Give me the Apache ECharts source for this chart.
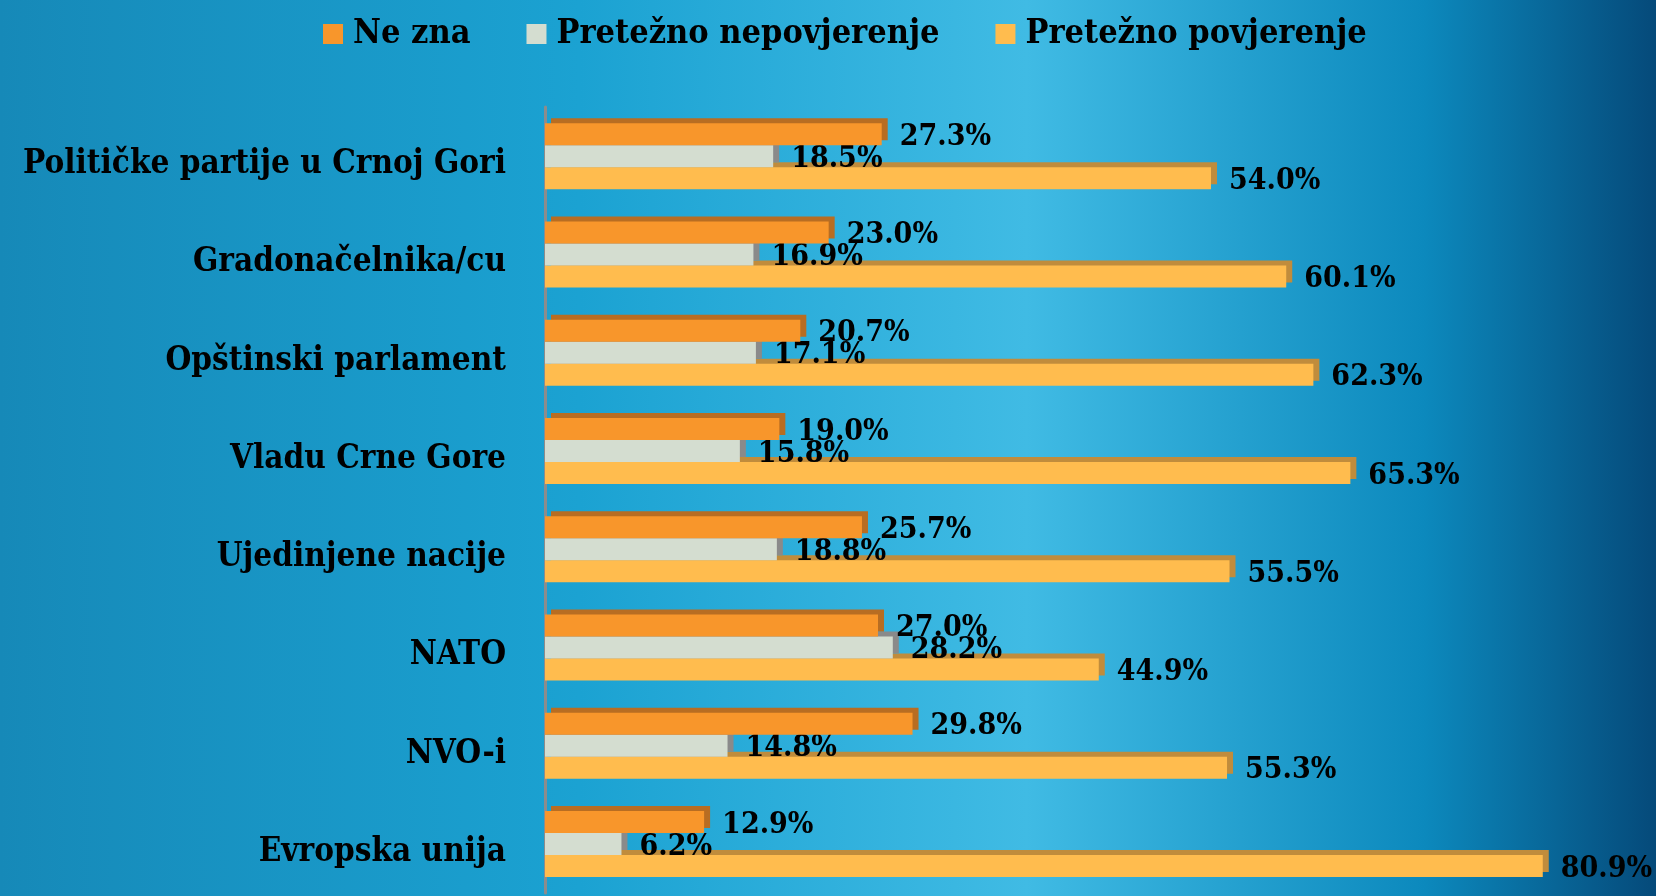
<!DOCTYPE html>
<html>
<head>
<meta charset="utf-8">
<script src="https://cdn.jsdelivr.net/npm/echarts@6/dist/echarts.min.js"></script>
<style>
  html, body { margin: 0; padding: 0; }
  #chart { width: 1656px; height: 896px; }
</style>
</head>
<body>
<div id="chart"></div>
<script>
// kategorije (odozgo prema dolje)
const categories = [
  "Političke partije u Crnoj Gori",
  "Gradonačelnika/cu",
  "Opštinski parlament",
  "Vladu Crne Gore",
  "Ujedinjene nacije",
  "NATO",
  "NVO-i",
  "Evropska unija"
];
const neZna = [27.3, 23.0, 20.7, 19.0, 25.7, 27.0, 29.8, 12.9];
const nepovjerenje = [18.5, 16.9, 17.1, 15.8, 18.8, 28.2, 14.8, 6.2];
const povjerenje = [54.0, 60.1, 62.3, 65.3, 55.5, 44.9, 55.3, 80.9];

const FONT = "'DejaVu Serif Condensed', 'DejaVu Serif', serif";

const chart = echarts.init(document.getElementById("chart"));

// stil serije, sjena glumi 3D stranicu stupca
function barSeries(name, data, color, side, z) {
  return {
    name: name,
    type: "bar",
    data: data,
    z: z,
    barWidth: 22,
    barGap: "0%",
    barCategoryGap: "32%",
    itemStyle: {
      color: color,
      shadowColor: side,
      shadowBlur: 0,
      shadowOffsetX: 6,
      shadowOffsetY: -5
    },
    label: {
      show: true,
      position: "right",
      distance: 18,
      offset: [0, 3],
      color: "#000",
      fontFamily: FONT,
      fontWeight: "bold",
      fontSize: 30,
      formatter: (p) => p.value.toFixed(1) + "%"
    }
  };
}

chart.setOption({
  animation: false,
  backgroundColor: new echarts.graphic.LinearGradient(0, 0, 1, 0, [
    { offset: 0, color: "#1689b8" },
    { offset: 0.35, color: "#1ba2d2" },
    { offset: 0.62, color: "#40bbe4" },
    { offset: 0.86, color: "#0c89bd" },
    { offset: 1, color: "#054a7a" }
  ]),
  legend: {
    left: 318,
    top: 12,
    itemWidth: 20,
    itemHeight: 20,
    itemGap: 56,
    icon: "rect",
    itemStyle: { shadowColor: "rgba(0,0,0,0)" },
    textStyle: {
      color: "#000",
      fontFamily: FONT,
      fontWeight: "bold",
      fontSize: 34,
      padding: [0, 0, 0, 5]
    },
    data: ["Ne zna", "Pretežno nepovjerenje", "Pretežno povjerenje"]
  },
  grid: {
    left: 545,
    top: 107,
    right: 1,
    bottom: 3,
    outerBoundsMode: "none"
  },
  xAxis: {
    type: "value",
    min: 0,
    max: 90,
    show: false
  },
  yAxis: {
    type: "category",
    inverse: true,
    data: categories,
    axisTick: { show: false },
    axisLine: { show: true, lineStyle: { color: "#8c8c8c", width: 3 } },
    axisLabel: {
      margin: 39,
      verticalAlign: "top",
      lineHeight: 17,
      color: "#000",
      fontFamily: FONT,
      fontWeight: "bold",
      fontSize: 33
    },
    splitLine: { show: false }
  },
  series: [
    barSeries("Ne zna", neZna, "#f8962b", "#b86d22", 4),
    barSeries("Pretežno nepovjerenje", nepovjerenje, "#d4ddd0", "#8a8a8a", 3),
    barSeries("Pretežno povjerenje", povjerenje, "#ffbc4e", "#c08c3c", 2)
  ]
});
</script>
</body>
</html>
